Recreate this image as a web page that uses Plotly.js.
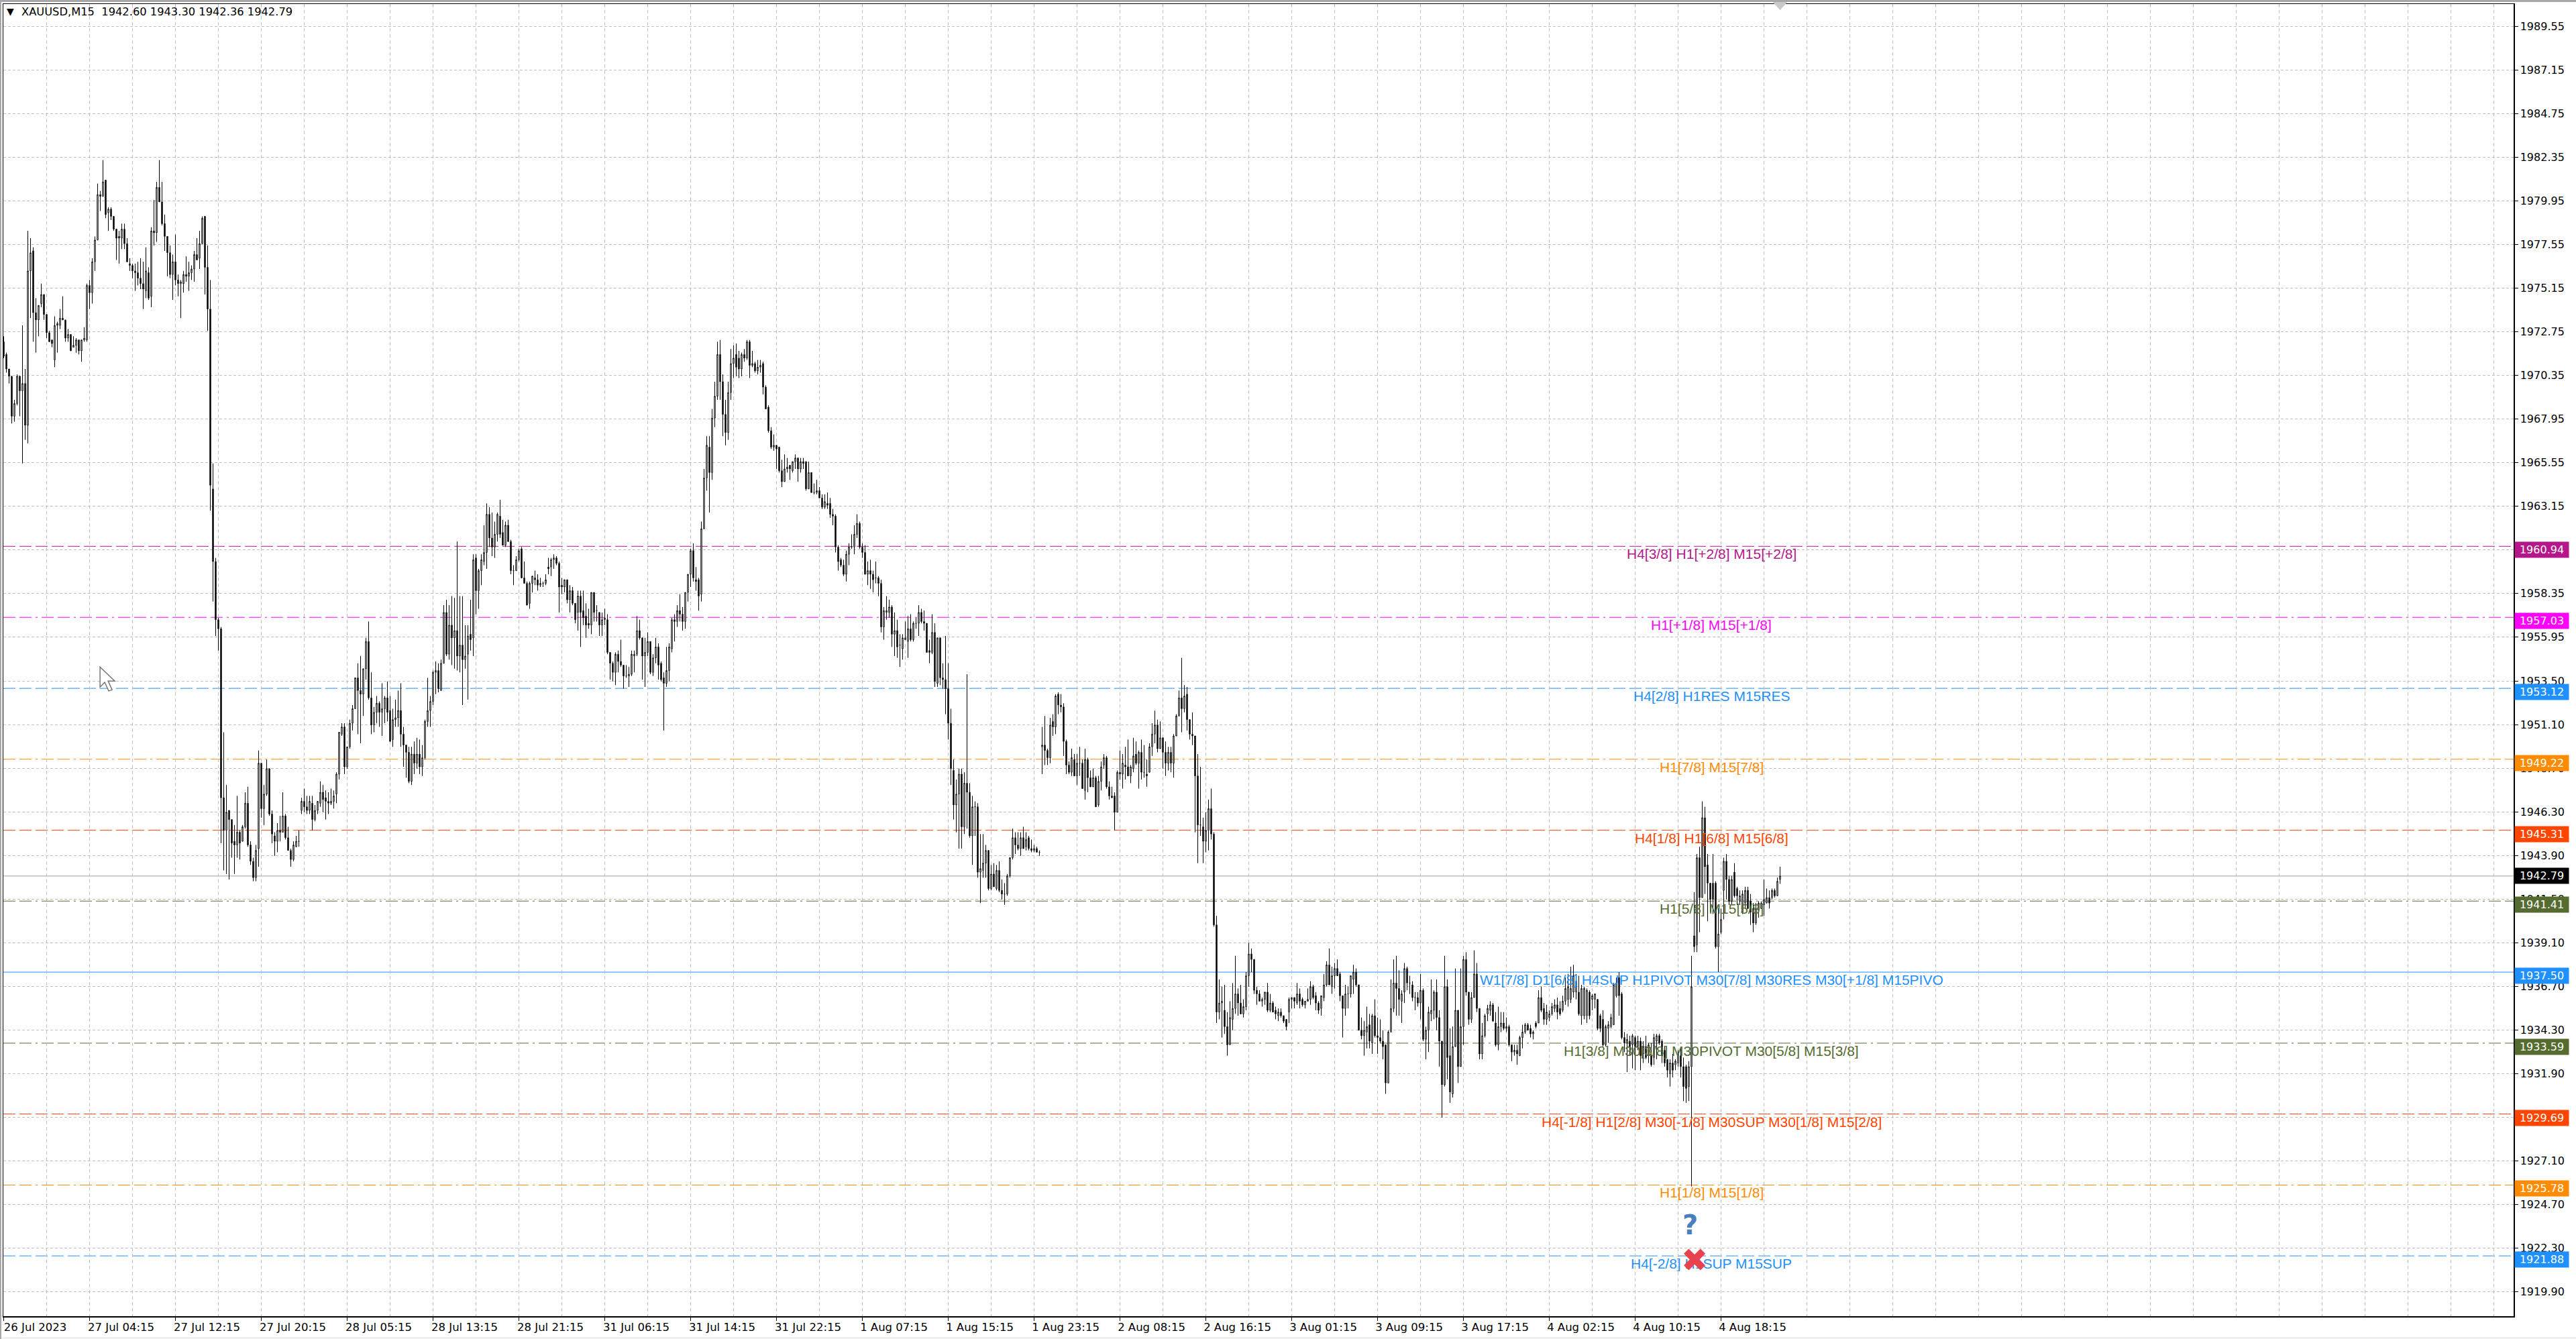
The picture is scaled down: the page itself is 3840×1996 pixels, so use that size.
<!DOCTYPE html>
<html>
<head>
<meta charset="utf-8">
<script src="https://cdn.plot.ly/plotly-3.0.1.min.js"></script>
<style>
  html, body { margin: 0; padding: 0; background: #f0f0f0; overflow: hidden; }
  body { width: 3838px; height: 1993px; border-top: 3px solid #a8a8a8; border-left: 2px solid #a8a8a8; }
</style>
</head>
<body>
<div id="chart"></div>
<script>
// open, high, low, close per M15 bar
var barsJul27 = [
[1972.2,1972.5,1971.3,1971.4],[1971.5,1971.6,1970.5,1970.7],[1970.7,1970.7,1969.9,1970.3],[1970.3,1970.3,1967.7,1968.1],[1968.1,1969.0,1967.8,1968.8],[1968.8,1970.4,1968.7,1970.3],[1970.3,1970.3,1968.1,1969.5],[1969.5,1973.1,1965.5,1969.9],
[1969.9,1970.7,1966.8,1967.6],[1967.6,1978.3,1966.6,1976.1],[1976.1,1977.9,1973.5,1977.1],[1977.2,1977.4,1972.2,1973.8],[1973.8,1974.6,1971.6,1973.4],[1973.4,1974.2,1972.5,1974.2],[1974.3,1975.4,1974.1,1974.8],[1974.8,1974.8,1973.4,1973.7],
[1973.7,1973.7,1972.4,1972.7],[1972.7,1972.8,1972.2,1972.2],[1972.3,1972.3,1971.9,1972.1],[1971.2,1973.6,1970.8,1973.1],[1973.1,1973.3,1971.6,1973.2],[1973.1,1974.0,1972.9,1973.5],[1973.5,1974.7,1973.4,1973.4],[1973.4,1973.4,1972.2,1972.4],
[1972.4,1972.9,1972.2,1972.6],[1972.6,1972.6,1971.7,1971.7],[1971.9,1972.5,1971.9,1972.0],[1972.0,1972.4,1971.6,1972.3],[1972.3,1972.3,1971.5,1971.7],[1971.7,1972.3,1971.1,1972.3],[1972.3,1973.0,1972.2,1972.4],[1972.3,1975.4,1972.2,1975.3],
[1975.3,1975.6,1974.0,1974.9],[1974.9,1976.8,1974.3,1976.6],[1976.6,1978.0,1976.1,1977.8],[1977.8,1980.9,1977.8,1980.3],[1980.3,1980.5,1979.4,1980.2],[1980.2,1982.2,1980.2,1981.0],[1981.1,1981.1,1979.0,1979.2],[1979.3,1979.6,1978.3,1979.5],
[1979.5,1979.6,1978.9,1979.1],[1979.1,1979.1,1978.3,1978.4],[1978.4,1978.4,1976.7,1977.9],[1978.0,1978.3,1976.5,1977.9],[1977.9,1978.7,1977.3,1978.4],[1978.4,1978.7,1977.3,1977.6],[1977.6,1977.9,1976.6,1976.6],[1976.5,1976.8,1976.1,1976.4],
[1976.4,1976.5,1975.7,1976.1],[1976.1,1976.5,1975.0,1976.0],[1976.0,1976.6,1975.3,1975.7],[1975.7,1976.8,1975.1,1975.4],[1975.4,1976.6,1974.0,1975.1],[1975.0,1977.4,1974.6,1976.1],[1976.0,1976.3,1974.5,1974.6],[1974.7,1978.5,1974.1,1978.3],
[1978.3,1980.0,1977.5,1978.2],[1978.2,1981.0,1977.7,1980.7],[1980.7,1982.2,1979.9,1979.9],[1979.9,1981.0,1978.6,1978.7],[1978.7,1979.2,1977.2,1978.0],[1978.0,1978.0,1975.8,1977.1],[1977.1,1977.5,1975.7,1975.9],[1975.9,1977.0,1974.5,1976.6],
[1976.6,1978.1,1975.3,1975.6],[1975.6,1975.9,1974.7,1975.4],[1975.4,1975.6,1973.5,1975.5],[1975.4,1976.1,1974.9,1975.9],[1975.9,1976.9,1975.5,1975.8],[1975.8,1976.6,1975.0,1976.0],[1976.0,1976.4,1975.6,1976.2],[1976.2,1977.2,1975.5,1977.0],
[1977.0,1977.9,1976.7,1976.7],[1976.8,1978.3,1976.2,1977.6],[1977.6,1979.1,1977.6,1979.0],[1979.1,1979.1,1974.8,1976.3],[1976.3,1977.5,1972.8,1974.0],[1974.0,1975.6,1962.9,1964.3],[1964.1,1965.5,1957.9,1960.1],[1960.1,1960.3,1956.0,1956.9],
[1956.9,1957.0,1955.2,1956.4],[1956.4,1956.5,1944.6,1947.1],[1947.1,1950.7,1943.1,1945.3],[1945.3,1947.8,1942.9,1946.3],[1946.4,1946.4,1942.6,1945.9],[1945.9,1945.9,1943.8,1944.6],[1944.7,1945.6,1942.9,1944.5],[1944.5,1947.2,1943.8,1945.2],
[1945.2,1945.3,1943.7,1944.6],[1944.7,1945.6,1944.7,1945.5],[1945.5,1947.4,1945.4,1946.8],[1946.8,1947.7,1944.4,1944.5],[1944.5,1944.7,1943.4,1943.6],[1943.6,1943.8,1942.5,1942.7],[1942.7,1944.5,1942.5,1944.2],[1944.3,1949.7,1943.3,1949.0],
[1949.0,1949.0,1946.0,1946.5],[1946.5,1947.8,1945.6,1947.3],[1947.3,1949.2,1947.2,1948.7],[1948.7,1948.7,1946.1,1946.2],[1946.2,1946.4,1944.6,1945.1],[1945.0,1945.2,1943.9,1944.7],[1944.7,1945.7,1944.1,1945.3],[1945.3,1946.1,1944.7,1945.2],
[1945.2,1947.4,1945.2,1946.1],[1946.1,1946.2,1944.8,1944.9],[1944.9,1945.5,1944.2,1944.2],[1944.2,1944.3,1943.3,1943.7],[1943.7,1944.7,1943.6,1944.5],[1944.4,1945.0,1944.4,1944.7],[1944.7,1945.3,1944.4,1944.7]
];
var barsJul28 = [
[1946.4,1947.1,1946.2,1946.9],[1946.9,1947.6,1946.3,1946.6],[1946.6,1947.2,1946.2,1946.4],[1946.4,1947.2,1946.2,1946.9],[1946.8,1947.2,1945.3,1945.9],[1945.9,1946.7,1945.8,1946.4],[1946.4,1946.9,1946.2,1946.9],[1946.8,1948.0,1946.6,1947.4],
[1947.4,1947.8,1946.3,1947.0],[1947.1,1947.5,1945.9,1946.9],[1946.9,1947.4,1946.2,1946.8],[1946.8,1947.6,1946.7,1946.9],[1946.9,1947.5,1946.5,1947.2],[1947.3,1948.5,1946.8,1948.4],[1948.4,1950.7,1948.1,1950.7],[1950.6,1951.2,1950.5,1951.0],
[1951.0,1951.2,1948.4,1948.8],[1948.8,1949.9,1948.7,1949.9],[1949.9,1951.4,1949.8,1951.2],[1951.2,1952.2,1950.8,1952.0],[1952.0,1953.7,1952.0,1953.7],[1953.7,1954.5,1950.6,1953.0],[1953.0,1954.9,1950.1,1952.8],[1952.8,1954.2,1951.6,1954.2],
[1954.2,1955.9,1953.6,1955.7],[1955.7,1956.8,1952.5,1952.6],[1952.6,1954.0,1950.6,1951.1],[1951.1,1952.1,1950.7,1951.8],[1951.8,1952.7,1951.2,1952.3],[1952.3,1952.4,1951.0,1951.8],[1951.8,1953.4,1950.5,1952.0],[1952.0,1952.7,1951.2,1952.6],
[1952.6,1953.5,1951.3,1951.8],[1951.9,1952.7,1950.2,1950.2],[1950.3,1952.0,1949.9,1951.4],[1951.4,1952.5,1951.0,1951.5],[1951.5,1953.0,1951.0,1951.9],[1951.9,1953.4,1949.9,1950.6],[1950.6,1951.0,1948.8,1950.0],[1950.0,1950.0,1948.2,1949.6],
[1949.6,1949.9,1947.9,1948.0],[1948.0,1949.9,1947.8,1949.5],[1949.5,1950.2,1948.4,1949.0],[1949.0,1950.4,1948.7,1949.5],[1949.5,1950.3,1948.4,1948.8],[1948.8,1950.0,1948.3,1949.3],[1949.3,1951.4,1949.2,1951.3],[1951.3,1953.7,1951.0,1951.9],
[1951.9,1952.7,1951.0,1952.4],[1952.4,1954.1,1952.2,1954.0],[1954.0,1954.6,1952.8,1954.1],[1954.1,1954.5,1952.9,1953.1],[1953.0,1954.7,1953.0,1954.5],[1954.5,1957.7,1954.5,1957.3],[1957.3,1958.0,1954.9,1955.0],[1955.0,1957.7,1954.7,1956.6],
[1956.6,1958.2,1954.4,1955.9],[1955.9,1958.1,1954.2,1956.3],[1956.3,1961.2,1954.1,1954.9],[1954.9,1958.2,1954.0,1955.5],[1955.5,1958.2,1952.2,1954.7],[1954.7,1956.6,1954.2,1954.9],[1955.0,1956.6,1952.5,1956.0],[1956.1,1958.0,1955.2,1955.8],
[1955.9,1960.5,1954.9,1960.2],[1960.3,1960.5,1957.2,1958.5],[1958.5,1959.7,1957.5,1959.6],[1959.6,1960.5,1958.8,1960.2],[1960.1,1962.1,1959.9,1960.6],[1960.6,1963.3,1959.7,1962.7],[1962.7,1963.1,1960.9,1961.4],[1961.4,1962.8,1960.4,1960.9],
[1960.9,1962.3,1960.3,1961.6],[1961.6,1962.8,1961.2,1962.7],[1962.6,1963.5,1961.4,1961.6],[1961.7,1962.4,1961.0,1961.0],[1961.0,1962.3,1960.9,1962.1],[1962.1,1962.4,1961.2,1961.2],[1961.2,1961.3,1959.4,1959.6],[1959.6,1959.9,1958.8,1959.6],
[1959.6,1960.4,1959.6,1960.2],[1960.2,1960.8,1960.1,1960.7],[1960.8,1960.9,1959.2,1959.2],[1959.2,1960.1,1958.9,1958.9],[1958.9,1959.0,1957.7,1957.7],[1957.8,1959.0,1957.5,1958.9],[1958.9,1959.3,1958.4,1959.3],[1959.2,1959.6,1958.8,1959.1],
[1959.1,1959.4,1958.5,1958.8],[1958.8,1959.2,1958.7,1958.9],[1958.9,1959.0,1958.7,1958.9],[1958.9,1959.4,1958.8,1959.1]
];
var barsJul31 = [
[1959.8,1960.3,1959.4,1959.7],[1959.8,1960.3,1959.3,1960.2],[1960.2,1960.5,1959.7,1960.3],[1960.3,1960.4,1959.9,1960.0],[1960.0,1960.1,1957.3,1958.7],[1958.8,1959.2,1958.3,1958.7],[1958.7,1959.1,1958.4,1959.1],[1959.1,1959.1,1957.8,1958.0],
[1958.0,1958.8,1957.3,1958.5],[1958.5,1958.7,1957.7,1957.8],[1957.8,1957.8,1956.7,1956.9],[1957.3,1958.5,1956.3,1958.2],[1958.2,1958.5,1955.4,1957.3],[1957.4,1958.5,1956.6,1957.0],[1957.1,1957.8,1955.9,1956.6],[1956.7,1957.5,1956.4,1956.6],
[1956.6,1958.4,1956.1,1958.4],[1958.4,1958.4,1956.8,1957.3],[1957.4,1957.7,1956.8,1957.4],[1957.3,1957.3,1956.0,1956.6],[1956.6,1957.3,1956.0,1956.9],[1956.9,1957.5,1956.6,1957.0],[1956.9,1957.2,1955.0,1955.1],[1955.1,1955.1,1953.6,1954.5],
[1954.5,1954.6,1953.5,1954.0],[1954.0,1955.1,1953.3,1955.0],[1955.0,1955.2,1954.0,1954.6],[1954.6,1955.8,1954.3,1954.4],[1954.4,1954.4,1953.1,1953.8],[1953.8,1954.4,1953.7,1953.8],[1953.8,1954.3,1953.2,1953.9],[1953.9,1955.2,1953.8,1955.0],
[1954.9,1955.2,1954.0,1955.0],[1955.0,1957.1,1954.9,1956.3],[1956.3,1956.9,1955.8,1955.9],[1955.9,1955.9,1953.6,1954.9],[1954.9,1955.9,1953.2,1955.1],[1955.1,1956.2,1954.9,1955.7],[1955.7,1955.7,1953.9,1954.0],[1954.0,1955.0,1953.8,1954.8],
[1954.8,1955.9,1954.5,1955.4],[1955.4,1955.6,1953.6,1954.4],[1954.5,1954.6,1953.5,1953.6],[1953.7,1954.0,1950.8,1953.4],[1953.4,1955.4,1953.2,1954.1],[1954.1,1955.6,1953.5,1955.4],[1955.3,1957.0,1955.1,1956.9],[1956.9,1957.2,1955.7,1956.8],
[1956.8,1957.7,1956.5,1957.4],[1957.4,1958.3,1956.8,1957.2],[1957.2,1957.6,1956.3,1956.8],[1956.8,1958.4,1956.4,1958.4],[1958.4,1959.4,1957.9,1959.4],[1959.4,1960.8,1958.7,1960.7],[1960.7,1961.1,1959.0,1959.2],[1959.1,1959.8,1958.5,1959.0],
[1959.1,1959.2,1957.4,1958.2],[1958.3,1962.3,1957.9,1961.9],[1961.9,1965.2,1961.9,1964.7],[1964.7,1967.0,1964.0,1966.5],[1966.4,1967.0,1962.8,1965.0],[1965.0,1968.5,1964.6,1968.0],[1968.0,1970.0,1967.5,1969.2],[1969.2,1972.2,1969.0,1971.5],
[1971.5,1972.3,1969.0,1970.0],[1970.0,1970.4,1967.0,1968.2],[1968.2,1969.0,1966.5,1967.2],[1967.2,1970.0,1966.8,1969.4],[1969.4,1971.8,1969.0,1971.0],[1971.0,1972.0,1970.2,1971.3],[1971.5,1972.1,1970.3,1970.8],
[1971.3,1971.7,1970.2,1970.7],[1970.7,1971.6,1970.3,1971.5],[1971.5,1971.8,1971.1,1971.3],[1971.3,1972.3,1971.2,1972.2],[1972.2,1972.3,1970.2,1970.9],[1970.9,1971.7,1970.8,1971.0],[1971.0,1971.1,1970.5,1970.6],[1970.6,1971.2,1970.4,1970.8],
[1970.8,1971.2,1970.5,1970.9],[1971.0,1971.1,1969.3,1969.7],[1969.7,1969.8,1968.5,1968.5],[1968.6,1968.7,1967.2,1967.3],[1967.3,1967.5,1966.3,1966.4],[1966.4,1967.1,1966.2,1966.5],[1966.5,1966.5,1965.2,1966.3],[1966.4,1966.4,1965.0,1965.1],
[1965.1,1965.7,1964.2,1964.5],[1964.5,1966.0,1964.5,1965.2],[1965.2,1965.8,1965.0,1965.3],[1965.4,1965.4,1964.6,1965.2],[1965.1,1965.6,1965.0,1965.6],[1965.6,1966.0,1965.2,1965.8]
];
var barsAug1 = [
[1965.8,1965.8,1964.5,1965.2],[1965.2,1965.8,1965.0,1965.6],[1965.6,1965.8,1965.2,1965.5],[1965.6,1965.6,1964.0,1964.1],[1964.1,1965.6,1964.1,1965.0],[1965.0,1965.0,1963.9,1963.9],[1963.9,1964.4,1963.8,1963.9],[1963.9,1964.6,1963.8,1964.0],
[1964.0,1964.2,1963.6,1963.6],[1963.6,1963.8,1963.0,1963.1],[1963.1,1963.8,1963.0,1963.4],[1963.3,1963.9,1963.0,1963.2],[1963.3,1963.6,1962.5,1962.7],[1962.7,1963.0,1962.1,1962.6],[1962.6,1962.7,1960.6,1960.9],[1960.9,1961.0,1959.6,1960.1],
[1960.2,1960.3,1959.8,1959.9],[1959.9,1960.2,1959.3,1959.4],[1959.4,1960.7,1959.0,1960.5],[1960.5,1961.1,1959.9,1960.9],[1960.9,1961.6,1960.8,1960.9],[1960.9,1962.1,1960.5,1961.6],[1961.6,1962.7,1961.4,1962.2],[1962.2,1962.3,1960.8,1960.9],
[1960.9,1961.1,1960.3,1960.6],[1960.6,1961.0,1959.4,1959.4],[1959.4,1960.1,1958.8,1959.6],[1959.6,1960.2,1958.6,1959.4],[1959.4,1959.6,1958.4,1959.1],[1959.2,1960.1,1958.9,1959.2],[1959.2,1959.3,1958.2,1958.9],[1958.9,1959.1,1956.2,1956.5],
[1956.5,1957.6,1955.8,1957.4],[1957.3,1958.2,1956.9,1957.4],[1957.3,1958.0,1957.0,1957.6],[1957.6,1957.7,1955.4,1956.1],[1956.1,1957.3,1954.9,1956.3],[1956.3,1956.9,1954.8,1955.4],[1955.5,1956.1,1954.3,1955.5],[1955.3,1956.1,1954.7,1955.9],
[1955.8,1956.8,1955.8,1955.9],[1955.7,1957.1,1954.8,1956.4],[1956.4,1957.2,1955.7,1955.8],[1955.8,1956.8,1955.7,1956.7],[1956.7,1957.0,1956.4,1956.7],[1956.7,1957.7,1956.0,1957.3],[1957.3,1957.5,1956.7,1956.8],[1956.8,1957.4,1956.3,1956.7],
[1956.7,1956.7,1955.1,1955.1],[1955.2,1955.8,1954.5,1955.1],[1955.1,1957.2,1955.0,1956.2],[1956.2,1956.7,1953.2,1953.5],[1953.4,1955.9,1953.2,1955.9],[1955.9,1955.9,1953.3,1953.7],[1953.7,1954.5,1953.1,1953.6],[1953.6,1956.0,1951.7,1953.1],
[1953.1,1954.5,1950.3,1951.2],[1951.2,1952.0,1947.8,1948.7],[1948.6,1949.2,1945.9,1946.7],[1946.7,1948.1,1945.2,1947.3],[1947.3,1948.7,1944.3,1948.4],[1948.4,1948.7,1944.3,1945.5],[1945.5,1948.5,1945.1,1947.9],[1947.9,1953.9,1945.4,1947.4],
[1947.4,1947.9,1944.9,1945.0],[1945.0,1947.2,1943.4,1946.6],[1946.6,1946.9,1945.0,1946.6],[1946.6,1946.8,1942.7,1943.0],[1943.0,1945.1,1941.3,1943.2],[1943.1,1945.1,1942.7,1943.5],[1943.5,1944.5,1942.7,1944.2],[1944.2,1944.2,1942.0,1942.1],
[1942.1,1943.4,1942.0,1942.9],[1942.9,1943.5,1942.2,1942.2],[1942.1,1943.4,1942.0,1943.1],[1943.1,1943.6,1941.9,1942.0],[1942.0,1942.6,1941.5,1941.8],[1941.8,1942.4,1941.2,1941.8],[1941.8,1942.9,1941.7,1942.8],[1942.8,1943.8,1942.7,1943.8],
[1943.8,1945.4,1943.7,1944.9],[1944.9,1945.2,1944.0,1944.5],[1944.5,1945.2,1944.2,1944.3],[1944.3,1945.2,1943.9,1944.9],[1944.9,1945.5,1944.3,1944.3],[1944.4,1945.2,1944.2,1944.8],[1944.9,1945.0,1944.2,1944.3],[1944.3,1944.8,1944.1,1944.2],
[1944.2,1944.5,1944.1,1944.3],[1944.3,1944.4,1944.1,1944.1],[1944.1,1944.2,1943.9,1944.1]
];
var barsAug2 = [
[1949.9,1951.0,1948.4,1950.0],[1950.0,1951.6,1948.9,1949.7],[1949.7,1949.8,1948.9,1949.3],[1949.3,1951.5,1949.0,1951.1],[1951.3,1951.7,1950.5,1951.0],[1951.0,1952.8,1950.6,1952.7],[1952.8,1952.9,1951.7,1952.2],[1952.2,1952.8,1951.8,1952.1],
[1952.1,1952.3,1949.4,1950.2],[1950.2,1950.3,1948.4,1948.9],[1948.9,1949.1,1948.4,1948.5],[1948.5,1949.8,1948.3,1949.3],[1949.2,1949.5,1948.3,1948.3],[1948.3,1949.5,1947.8,1949.0],[1949.0,1949.9,1948.3,1949.0],[1949.0,1949.2,1947.6,1947.6],
[1947.5,1949.8,1947.0,1949.2],[1949.2,1949.3,1947.4,1948.2],[1948.2,1948.6,1947.7,1947.7],[1947.7,1948.7,1947.7,1948.2],[1948.2,1948.3,1946.6,1946.6],[1946.7,1948.3,1946.6,1948.0],[1948.0,1949.1,1947.5,1948.8],[1948.9,1949.5,1948.7,1949.3],
[1949.3,1949.4,1947.6,1947.7],[1947.7,1948.0,1947.0,1947.2],[1947.2,1947.7,1947.1,1947.1],[1947.2,1947.4,1945.3,1946.3],[1946.3,1948.6,1946.3,1948.5],[1948.5,1949.7,1948.1,1948.4],[1948.4,1949.5,1947.6,1949.0],[1948.9,1949.9,1948.1,1948.8],
[1948.8,1950.3,1948.3,1948.3],[1948.3,1948.9,1947.9,1948.8],[1948.7,1950.4,1948.5,1949.4],[1949.5,1950.2,1948.9,1949.0],[1949.0,1949.7,1947.6,1949.6],[1949.6,1950.3,1948.1,1948.5],[1948.5,1950.0,1948.2,1948.5],[1948.4,1949.2,1947.7,1948.3],
[1948.5,1950.1,1948.5,1949.9],[1949.9,1951.2,1949.4,1950.6],[1950.6,1951.9,1950.1,1951.1],[1951.1,1951.4,1949.6,1949.8],[1949.8,1951.3,1949.8,1950.4],[1950.4,1950.4,1948.7,1949.6],[1949.6,1950.2,1948.3,1949.0],[1949.0,1949.9,1948.6,1949.6],
[1949.6,1949.9,1948.5,1949.0],[1949.0,1950.6,1948.2,1950.5],[1950.5,1951.7,1950.5,1951.6],[1951.6,1953.0,1951.6,1952.6],[1952.6,1954.8,1950.7,1952.0],[1952.0,1953.3,1951.8,1952.7],[1952.8,1953.2,1950.8,1951.4],[1951.4,1951.4,1950.3,1950.6],
[1950.6,1951.8,1950.0,1950.5],[1950.5,1950.5,1945.2,1948.3],[1948.3,1949.5,1943.5,1945.6],[1945.6,1948.8,1945.0,1945.6],[1945.5,1946.0,1943.5,1944.7],[1944.7,1946.3,1944.1,1945.3],[1945.3,1947.0,1944.2,1946.5],[1946.5,1947.6,1944.8,1945.1],
[1945.1,1945.2,1940.0,1940.1],[1940.1,1940.6,1934.7,1935.3],[1935.3,1937.1,1934.9,1935.8],[1935.8,1936.7,1933.9,1935.9],[1935.4,1936.8,1934.1,1934.5],[1934.5,1935.3,1932.9,1933.5],[1933.5,1935.9,1933.5,1935.0],[1934.9,1936.9,1934.3,1935.5],
[1935.5,1938.4,1935.2,1936.3],[1936.3,1936.6,1935.1,1935.8],[1935.8,1936.8,1935.2,1935.2],[1935.2,1936.0,1935.0,1935.6],[1935.6,1937.5,1935.4,1937.3],[1937.3,1939.1,1936.7,1938.5],[1938.5,1938.8,1937.5,1938.2],[1938.2,1938.2,1936.3,1936.5],
[1936.5,1936.7,1935.7,1936.3],[1936.3,1936.5,1935.9,1935.9],[1935.9,1936.1,1935.6,1936.0],[1936.0,1936.4,1935.7,1936.4]
];
var barsAug3 = [
[1936.4,1936.9,1935.3,1935.4],[1935.4,1936.3,1935.3,1935.8],[1935.8,1935.9,1935.3,1935.3],[1935.4,1935.6,1934.9,1935.2],[1935.1,1935.5,1934.8,1935.3],[1935.3,1935.5,1935.0,1935.1],[1935.1,1935.1,1934.7,1934.8],[1934.9,1934.9,1934.3,1934.5],
[1935.3,1936.1,1934.7,1936.0],[1936.0,1936.1,1935.5,1936.1],[1936.1,1936.1,1935.5,1935.9],[1935.8,1936.9,1935.7,1936.3],[1936.3,1936.6,1935.5,1935.9],[1936.0,1936.1,1935.6,1935.7],[1935.7,1935.9,1935.5,1935.9],[1935.9,1936.6,1935.9,1936.0],
[1936.0,1937.0,1935.7,1936.7],[1936.7,1936.8,1936.0,1936.1],[1936.2,1936.4,1935.4,1935.8],[1935.8,1935.9,1935.2,1935.4],[1935.5,1936.2,1935.1,1936.2],[1936.1,1937.4,1935.9,1936.8],[1936.8,1938.1,1936.7,1937.9],[1937.9,1938.8,1936.8,1936.8],
[1936.7,1937.8,1936.3,1937.3],[1937.3,1938.0,1936.6,1937.7],[1937.7,1938.2,1937.3,1937.3],[1937.4,1937.5,1935.9,1936.2],[1936.2,1936.2,1933.9,1935.5],[1935.5,1936.8,1935.1,1936.3],[1936.3,1936.7,1935.5,1936.3],[1936.3,1937.3,1936.1,1937.3],
[1937.1,1937.9,1936.3,1937.5],[1937.5,1937.7,1936.7,1936.8],[1936.8,1936.8,1934.3,1934.3],[1934.3,1935.0,1933.8,1934.0],[1934.0,1934.8,1932.9,1934.3],[1934.2,1935.6,1933.3,1934.5],[1934.6,1935.2,1933.3,1933.7],[1933.6,1935.2,1933.0,1935.1],
[1935.1,1936.0,1933.9,1934.0],[1934.0,1935.0,1933.0,1933.9],[1933.9,1934.9,1933.6,1933.7],[1933.7,1934.3,1932.7,1933.4],[1933.5,1933.5,1930.8,1931.4],[1931.4,1934.3,1931.4,1934.2],[1934.2,1937.1,1934.2,1935.5],[1935.5,1938.2,1935.3,1936.9],
[1936.9,1938.4,1935.1,1936.6],[1936.6,1937.6,1935.1,1936.0],[1935.9,1936.5,1934.7,1936.3],[1936.4,1938.0,1935.8,1937.7],[1937.7,1937.8,1936.5,1936.9],[1936.9,1937.3,1936.3,1936.9],[1936.8,1937.0,1935.9,1936.1],[1936.1,1936.4,1935.4,1936.1],
[1936.1,1936.4,1935.6,1935.8],[1935.8,1937.4,1934.9,1936.5],[1936.5,1936.6,1933.7,1933.8],[1933.8,1934.5,1932.7,1934.3],[1934.3,1935.6,1933.1,1935.3],[1935.2,1937.1,1934.8,1935.4],[1935.4,1936.5,1934.9,1936.4],[1936.4,1937.1,1934.3,1935.0],
[1935.0,1935.4,1932.3,1933.7],[1933.7,1933.7,1929.5,1931.3],[1931.3,1938.4,1931.2,1936.7],[1936.7,1937.1,1931.6,1932.8],[1932.9,1934.4,1930.3,1930.9],[1930.8,1934.5,1930.6,1933.4],[1933.4,1937.7,1933.4,1935.4],[1935.4,1935.4,1931.4,1932.3],
[1932.3,1937.7,1932.3,1934.5],[1934.5,1938.4,1933.5,1938.2],[1938.2,1938.6,1936.2,1936.4],[1936.4,1936.4,1934.6,1934.9],[1934.9,1936.4,1934.7,1936.1],[1936.1,1938.7,1936.1,1937.4],[1937.4,1938.0,1935.3,1935.5],[1935.5,1935.5,1932.7,1933.0],
[1933.0,1934.7,1932.7,1934.0],[1934.0,1935.2,1933.9,1935.1],[1935.2,1935.7,1934.8,1935.5],[1935.4,1935.9,1935.1,1935.7],[1935.7,1935.8,1934.8,1934.8],[1934.7,1935.3,1933.4,1933.5],[1933.5,1935.6,1933.2,1934.5],[1934.5,1935.3,1934.2,1934.7],
[1934.7,1935.3,1934.3,1934.4],[1934.4,1935.0,1934.2,1934.5],[1934.5,1934.6,1933.4,1933.5],[1933.5,1933.5,1932.6,1933.1],[1933.1,1933.5,1932.9,1933.2],[1933.2,1933.5,1932.4,1933.0],[1932.9,1934.0,1932.9,1933.9]
];
var barsAug4 = [
[1933.9,1934.6,1933.3,1934.2],[1934.2,1934.7,1934.1,1934.6],[1934.6,1934.7,1934.3,1934.3],[1934.4,1934.6,1933.9,1934.1],[1934.1,1934.3,1933.8,1934.2],[1934.7,1934.8,1934.4,1934.5],[1934.7,1936.5,1934.7,1936.1],[1936.1,1936.7,1935.3,1935.4],
[1935.5,1935.8,1934.6,1934.9],[1934.9,1935.7,1934.6,1935.3],[1935.0,1935.4,1934.8,1935.2],[1935.2,1935.8,1935.1,1935.6],[1935.5,1936.0,1935.3,1935.7],[1935.7,1936.1,1934.9,1935.3],[1935.5,1935.9,1935.1,1935.2],[1935.4,1936.2,1935.3,1935.9],
[1935.9,1937.2,1935.7,1936.6],[1936.0,1937.4,1935.6,1936.7],[1936.0,1937.8,1935.8,1936.6],[1936.4,1937.9,1936.1,1937.3],[1936.4,1937.4,1936.0,1937.0],[1936.4,1937.3,1935.1,1935.2],[1935.1,1936.8,1934.6,1936.6],[1935.1,1936.7,1934.9,1936.6],
[1935.1,1936.6,1934.7,1936.5],[1936.4,1936.5,1934.9,1935.1],[1936.0,1936.3,1935.4,1936.2],[1936.0,1936.3,1935.5,1936.3],[1936.0,1936.0,1934.3,1934.4],[1935.1,1935.2,1934.2,1934.4],[1934.9,1935.4,1933.4,1933.5],[1933.5,1934.6,1933.4,1934.5],
[1934.4,1934.8,1933.6,1934.6],[1934.5,1935.2,1934.4,1935.0],[1934.6,1936.9,1934.6,1936.8],[1936.2,1937.2,1936.1,1936.9],[1937.2,1937.5,1935.1,1936.2],[1936.3,1936.4,1933.8,1933.9],[1933.9,1934.2,1933.1,1933.6],[1933.6,1934.1,1932.0,1933.8],
[1933.7,1934.0,1932.9,1933.4],[1933.5,1934.1,1932.2,1934.0],[1933.9,1934.0,1932.1,1933.4],[1933.4,1934.0,1933.2,1933.7],[1933.7,1933.9,1932.1,1932.9],[1933.0,1933.7,1932.5,1933.4],[1933.4,1934.0,1932.7,1932.8],[1932.9,1933.6,1932.5,1933.5],
[1932.9,1933.6,1932.3,1932.4],[1932.8,1934.1,1932.4,1933.9],[1933.7,1934.1,1932.7,1934.0],[1934.0,1934.1,1933.5,1933.6],[1933.7,1933.8,1932.5,1932.9],[1933.2,1933.4,1932.3,1932.5],[1932.7,1932.7,1931.7,1932.1],[1931.9,1932.7,1931.2,1932.5],
[1932.5,1933.0,1931.7,1932.1],[1932.4,1932.7,1932.1,1932.6],[1932.5,1933.2,1932.3,1933.0],[1932.9,1933.3,1931.7,1932.3],[1932.3,1932.8,1930.4,1931.2],[1932.3,1932.4,1930.3,1931.1],[1931.2,1932.6,1930.4,1932.3],[1932.3,1938.4,1925.7,1936.7],
[1939.5,1941.9,1938.6,1938.9],[1939.0,1944.0,1938.6,1943.8],[1943.8,1944.4,1939.7,1941.6],[1941.6,1946.9,1941.6,1946.0],[1946.0,1946.6,1941.8,1943.3],[1943.4,1944.0,1940.3,1942.4],[1942.4,1942.4,1940.8,1941.5],[1942.4,1944.0,1940.7,1941.5],
[1942.4,1942.5,1938.8,1938.9],[1938.9,1941.0,1937.5,1939.6],[1939.7,1941.0,1939.6,1940.4],[1942.0,1943.8,1940.4,1943.6],[1943.6,1944.0,1941.5,1942.6],[1942.6,1942.8,1941.2,1941.4],[1941.4,1942.8,1941.2,1942.6],[1943.0,1943.5,1941.6,1941.7],
[1942.1,1942.2,1941.2,1941.7],[1941.4,1942.0,1941.2,1941.7],[1940.8,1942.0,1940.7,1941.8],[1941.3,1942.2,1941.0,1942.0],[1942.0,1942.2,1941.0,1941.0],[1941.4,1941.8,1940.1,1940.8],[1941.0,1941.3,1939.7,1940.2],[1940.2,1941.3,1940.1,1941.0],
[1940.9,1941.4,1940.5,1941.3],[1941.0,1941.4,1941.0,1941.3],[1941.2,1942.6,1940.6,1941.5],[1941.3,1942.1,1941.3,1941.6],[1941.6,1942.0,1941.0,1941.3],[1941.6,1942.1,1941.5,1942.0],[1942.0,1942.1,1941.6,1941.7],[1941.7,1942.7,1941.7,1942.5],
[1942.60,1943.30,1942.36,1942.79]
];

var levelPrices = [1960.94, 1957.03, 1953.12, 1949.22, 1945.31, 1941.41, 1937.50, 1933.59, 1929.69, 1925.78, 1921.88];
var levelColors = ['#b5178a', '#ff00ff', '#1e90ff', '#ff8c00', '#ff4500', '#556b2f', '#1e90ff', '#556b2f', '#ff4500', '#ff8c00', '#1e90ff'];
var levelDash = ['18px,6px', '18px,6px,18px,6px,3px,6px', '18px,6px', '18px,6px,18px,6px,3px,6px', '18px,6px', '18px,6px,18px,6px,3px,6px', 'solid', '18px,6px,18px,6px,3px,6px', '18px,6px', '18px,6px,18px,6px,3px,6px', '18px,6px'];
var levelLabels = [
  'H4[3/8] H1[+2/8] M15[+2/8]',
  'H1[+1/8] M15[+1/8]',
  'H4[2/8] H1RES M15RES',
  'H1[7/8] M15[7/8]',
  'H4[1/8] H1[6/8] M15[6/8]',
  'H1[5/8] M15[5/8]',
  'W1[7/8] D1[6/8] H4SUP H1PIVOT M30[7/8] M30RES M30[+1/8] M15PIVO',
  'H1[3/8] M30[3/8] M30PIVOT M30[5/8] M15[3/8]',
  'H4[-1/8] H1[2/8] M30[-1/8] M30SUP M30[1/8] M15[2/8]',
  'H1[1/8] M15[1/8]',
  'H4[-2/8] H1SUP M15SUP'
];
var lastPrice = 1942.79;
var header = 'XAUUSD,M15  1942.60 1943.30 1942.36 1942.79';

var xTickLabels = ['26 Jul 2023', '27 Jul 04:15', '27 Jul 12:15', '27 Jul 20:15', '28 Jul 05:15', '28 Jul 13:15', '28 Jul 21:15',
  '31 Jul 06:15', '31 Jul 14:15', '31 Jul 22:15', '1 Aug 07:15', '1 Aug 15:15', '1 Aug 23:15', '2 Aug 08:15', '2 Aug 16:15',
  '3 Aug 01:15', '3 Aug 09:15', '3 Aug 17:15', '4 Aug 02:15', '4 Aug 10:15', '4 Aug 18:15'];
var yTickLabels = ['1989.55', '1987.15', '1984.75', '1982.35', '1979.95', '1977.55', '1975.15', '1972.75', '1970.35', '1967.95',
  '1965.55', '1963.15', '1960.75', '1958.35', '1955.95', '1953.50', '1951.10', '1948.70', '1946.30', '1943.90', '1941.50',
  '1939.10', '1936.70', '1934.30', '1931.90', '1929.50', '1927.10', '1924.70', '1922.30', '1919.90'];

function unpack(rows, key) {
  return rows.map(function(row) { return row[key]; });
}

var bars = [].concat(barsJul27, barsJul28, barsJul31, barsAug1, barsAug2, barsAug3, barsAug4);
var fontName = '"DejaVu Sans", sans-serif';
var labelFont = '"Liberation Sans", Arial, sans-serif';
var gridColor = '#c0c0c0';

var candles = {
  type: 'candlestick',
  x: bars.map(function(b, i) { return i; }),
  open: unpack(bars, 0),
  high: unpack(bars, 1),
  low: unpack(bars, 2),
  close: unpack(bars, 3),
  whiskerwidth: 0,
  hoverinfo: 'skip',
  showlegend: false,
  increasing: {line: {color: '#000000', width: 1}, fillcolor: '#ffffff'},
  decreasing: {line: {color: '#000000', width: 1}, fillcolor: '#000000'}
};

var shapes = levelPrices.map(function(p, i) {
  return {
    type: 'line', layer: 'below', xref: 'paper', x0: 0, x1: 1, yref: 'y', y0: p, y1: p,
    line: {color: levelColors[i], width: 1, dash: levelDash[i]}
  };
});
shapes.push({
  type: 'line', layer: 'below', xref: 'paper', x0: 0, x1: 1, yref: 'y', y0: lastPrice, y1: lastPrice,
  line: {color: '#c0c0c0', width: 1.5}
});
// mouse cursor left in the screenshot
shapes.push({
  type: 'path', xref: 'x', yref: 'y', xsizemode: 'pixel', ysizemode: 'pixel', xanchor: 35.9, yanchor: 1954.3,
  path: 'M0,0 L0,-30 L7,-23 L13,-36 L18,-34 L12,-21 L22,-21 Z',
  line: {color: '#777777', width: 1.5}, fillcolor: '#ffffff'
});
// small grey chart-shift marker on the top edge
shapes.push({
  type: 'path', xref: 'x', yref: 'paper', xsizemode: 'pixel', ysizemode: 'pixel', xanchor: 662, yanchor: 1,
  path: 'M-11,3 L11,3 L0,-9 Z',
  line: {width: 0}, fillcolor: '#c8c8c8'
});

var annotations = levelPrices.map(function(p, i) {
  return {
    text: levelLabels[i], x: 636.4, y: p, yshift: -11.5, xanchor: 'center', showarrow: false,
    font: {family: labelFont, size: 21, color: levelColors[i]}
  };
});
levelPrices.forEach(function(p, i) {
  annotations.push({
    text: p.toFixed(2), xref: 'paper', x: 1, xanchor: 'left', xshift: 1, y: p, yshift: -5.5,
    width: 80, height: 23, align: 'center', showarrow: false, bgcolor: levelColors[i], borderpad: 0,
    font: {family: fontName, size: 16, color: '#ffffff'}
  });
});
annotations.push({
  text: lastPrice.toFixed(2), xref: 'paper', x: 1, xanchor: 'left', xshift: 1, y: lastPrice,
  width: 80, height: 23, align: 'center', showarrow: false, bgcolor: '#000000', borderpad: 0,
  font: {family: fontName, size: 16, color: '#ffffff'}
});
annotations.push({
  text: header, xref: 'paper', yref: 'paper', x: 0, y: 1, xanchor: 'left', yanchor: 'middle', xshift: 25, yshift: -11,
  showarrow: false, font: {family: fontName, size: 16.3, color: '#000000'}
});
annotations.push({
  text: '▼', xref: 'paper', yref: 'paper', x: 0, y: 1, xanchor: 'left', yanchor: 'middle', xshift: 3, yshift: -11,
  showarrow: false, font: {family: fontName, size: 14, color: '#000000'}
});
annotations.push({
  text: '<b>?</b>', x: 628.5, y: 1923.6, showarrow: false,
  font: {family: fontName, size: 40, color: '#4a7fbd'}
});
annotations.push({
  text: '✖', x: 630, y: 1921.66, showarrow: false,
  font: {family: fontName, size: 48, color: '#e8424e'}
});

var layout = {
  width: 3838,
  height: 1990,
  autosize: false,
  paper_bgcolor: '#ffffff',
  plot_bgcolor: '#ffffff',
  margin: {l: 3, r: 93, t: 3, b: 31, pad: 0},
  boxgap: 0.5,
  showlegend: false,
  dragmode: false,
  xaxis: {
    type: 'linear',
    range: [-0.125, 935.375],
    rangeslider: {visible: false},
    tickmode: 'array',
    tickvals: xTickLabels.map(function(t, i) { return i * 32; }),
    ticktext: xTickLabels,
    ticks: 'outside',
    ticklen: 5,
    tickcolor: '#000000',
    ticklabelshift: 47,
    ticklabelstandoff: -4,
    tickfont: {family: fontName, size: 16.5, color: '#000000'},
    showgrid: false,
    zeroline: false,
    showline: true,
    linecolor: '#000000',
    linewidth: 1.5,
    mirror: true,
    minor: {tickmode: 'linear', tick0: 0, dtick: 16, showgrid: true, gridcolor: gridColor, griddash: '5px,4px', gridwidth: 1.2, ticks: ''}
  },
  yaxis: {
    side: 'right',
    range: [1918.56, 1990.79],
    tickmode: 'array',
    tickvals: yTickLabels.map(parseFloat),
    ticktext: yTickLabels,
    ticks: 'outside',
    ticklen: 5,
    tickcolor: '#000000',
    ticklabelstandoff: 0,
    tickfont: {family: fontName, size: 16, color: '#000000'},
    showgrid: true,
    gridcolor: gridColor,
    griddash: '4px,3px',
    gridwidth: 1.2,
    zeroline: false,
    showline: true,
    linecolor: '#000000',
    linewidth: 1.5,
    mirror: true
  },
  shapes: shapes,
  annotations: annotations
};

Plotly.newPlot('chart', [candles], layout, {displayModeBar: false, staticPlot: true});
</script>
</body>
</html>
